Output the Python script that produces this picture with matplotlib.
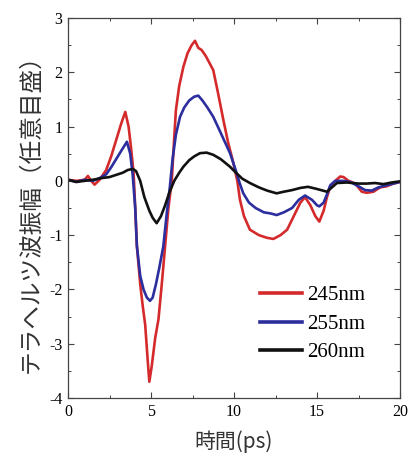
import matplotlib
matplotlib.use("Agg")
import matplotlib.pyplot as plt
from matplotlib.ticker import MultipleLocator

plt.rcParams['font.family'] = ['Liberation Serif', 'DejaVu Serif']
plt.rcParams['axes.unicode_minus'] = False

# 245nm (red)
x245 = [0, 0.5, 1.0, 1.2, 1.4, 1.6, 1.9, 2.3, 2.6, 2.9, 3.2, 3.45, 3.65, 3.8, 3.95,
        4.05, 4.15, 4.35, 4.5, 4.65, 4.8, 4.9, 5.05, 5.25, 5.45, 5.65, 5.85, 6.05,
        6.25, 6.4, 6.5, 6.7, 6.95, 7.2, 7.45, 7.65, 7.85, 8.05, 8.3, 8.75, 9.05,
        9.36, 9.65, 9.96, 10.2, 10.36, 10.6, 10.96, 11.5, 12.0, 12.37, 12.8, 13.2,
        13.6, 14.0, 14.28, 14.6, 14.9, 15.14, 15.4, 15.6, 15.8, 16.1, 16.4, 16.6,
        16.9, 17.3, 17.7, 18.0, 18.4, 18.8, 19.2, 19.6, 20.0]
y245 = [0.02, 0.0, 0.02, 0.09, 0.0, -0.07, 0.02, 0.2, 0.45, 0.75, 1.05, 1.27, 1.0,
        0.6, 0.15, -0.5, -1.2, -1.9, -2.3, -2.65, -3.3, -3.7, -3.4, -2.9, -2.55,
        -1.9, -1.2, -0.5, 0.0, 0.8, 1.3, 1.75, 2.1, 2.35, 2.5, 2.58, 2.45, 2.41,
        2.3, 2.04, 1.6, 1.12, 0.7, 0.33, 0.0, -0.35, -0.65, -0.9, -1.0, -1.05,
        -1.07, -1.0, -0.9, -0.65, -0.4, -0.3, -0.45, -0.65, -0.75, -0.55, -0.3,
        -0.1, 0.0, 0.08, 0.07, 0.0, -0.05, -0.2, -0.22, -0.2, -0.12, -0.1, -0.05,
        -0.02]

# 255nm (blue)
x255 = [0, 0.5, 1.0, 1.5, 1.9, 2.3, 2.6, 2.9, 3.2, 3.55, 3.75, 3.9, 4.05, 4.15,
        4.35, 4.55, 4.75, 4.94, 5.1, 5.3, 5.5, 5.74, 5.95, 6.14, 6.3, 6.5, 6.75,
        7.0, 7.3, 7.6, 7.85, 8.1, 8.4, 8.75, 9.1, 9.4, 9.76, 10.1, 10.35, 10.56,
        10.9, 11.3, 11.8, 12.2, 12.57, 13.0, 13.5, 13.9, 14.28, 14.7, 15.0, 15.14,
        15.4, 15.6, 15.8, 16.1, 16.6, 17.0, 17.5, 17.9, 18.3, 18.7, 19.2, 19.6, 20.0]
y255 = [0.02, -0.02, 0.02, 0.0, 0.05, 0.12, 0.25, 0.4, 0.55, 0.72, 0.5, 0.1, -0.5,
        -1.2, -1.75, -2.0, -2.15, -2.21, -2.15, -1.9, -1.6, -1.21, -0.6, -0.1,
        0.4, 0.85, 1.18, 1.35, 1.48, 1.55, 1.57, 1.48, 1.35, 1.18, 0.95, 0.75,
        0.51, 0.2, -0.05, -0.23, -0.4, -0.5, -0.58, -0.6, -0.63, -0.58, -0.5,
        -0.35, -0.27, -0.35, -0.45, -0.47, -0.4, -0.25, -0.08, 0.0, 0.0, -0.02,
        -0.1, -0.17, -0.18, -0.12, -0.08, -0.05, -0.02]

# 260nm (black)
x260 = [0, 0.5, 1.0, 1.5, 2.0, 2.5, 2.9, 3.3, 3.6, 3.9, 4.1, 4.35, 4.6, 4.9, 5.1,
        5.34, 5.6, 5.85, 6.1, 6.4, 6.7, 6.95, 7.3, 7.6, 7.95, 8.35, 8.75, 9.2,
        9.76, 10.15, 10.5, 10.96, 11.5, 12.0, 12.57, 13.0, 13.5, 14.0, 14.46,
        15.0, 15.6, 15.9, 16.2, 16.8, 17.5, 18.0, 18.5, 19.0, 19.5, 20.0]
y260 = [0.02, -0.02, 0.0, 0.02, 0.05, 0.07, 0.11, 0.15, 0.2, 0.22, 0.18, 0.0, -0.3,
        -0.55, -0.68, -0.78, -0.65, -0.45, -0.22, 0.0, 0.15, 0.26, 0.38, 0.45,
        0.51, 0.52, 0.48, 0.4, 0.26, 0.14, 0.04, -0.04, -0.12, -0.18, -0.23,
        -0.2, -0.17, -0.13, -0.11, -0.15, -0.2, -0.12, -0.04, -0.03, -0.05,
        -0.05, -0.04, -0.06, -0.03, -0.01]

labels = ["245nm", "255nm", "260nm"]
colors = ["#d42a2c", "#2c2e9e", "#111111"]

fig = plt.figure(figsize=(4.08, 4.63), dpi=100)
ax = fig.add_axes([68/408, 1-398/463, 332/408, 380/463])

for xs, ys, lab, c in zip([x245, x255, x260], [y245, y255, y260], labels, colors):
    ax.plot(xs, ys, color=c, lw=1.9, label=lab)

ax.set_xlim(0, 20)
ax.set_ylim(-4, 3)
ax.xaxis.set_major_locator(MultipleLocator(5))
ax.xaxis.set_minor_locator(MultipleLocator(2.5))
ax.yaxis.set_major_locator(MultipleLocator(1))
ax.yaxis.set_minor_locator(MultipleLocator(0.5))
ax.tick_params(which='both', direction='in', top=True, right=True, labelsize=11.5, color='#444444')
ax.tick_params(which='major', length=4, width=0.8, pad=4)
ax.tick_params(which='minor', length=2.5, width=0.7)
for s in ax.spines.values():
    s.set_color('#444444')
    s.set_linewidth(0.9)

cjk = ['Noto Sans CJK JP', 'DejaVu Sans']
ax.set_xlabel("時間(ps)", family=cjk, fontsize=15, color='#333333', labelpad=8)
ax.set_ylabel("テラヘルツ波振幅（任意目盛）", family=cjk, fontsize=17, color='#333333', labelpad=5)

leg = ax.legend(loc='upper left', bbox_to_anchor=(0.578, 0.295), frameon=False,
                fontsize=15, handlelength=2.0, handletextpad=0.25, labelspacing=0.42,
                borderpad=0, borderaxespad=0)
for line in leg.get_lines():
    line.set_linewidth(2.6)

fig.savefig("out.png", dpi=100)
